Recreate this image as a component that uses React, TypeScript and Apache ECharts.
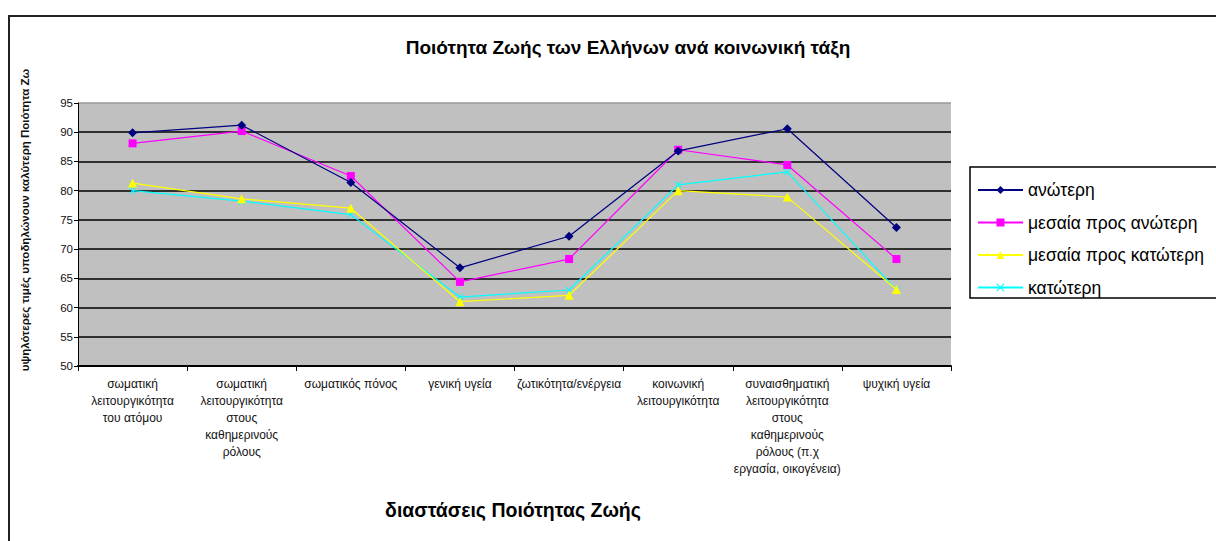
import React, { useEffect, useRef } from "react";
import * as echarts from "echarts";

const title = "Ποιότητα Ζωής των Ελλήνων ανά κοινωνική τάξη";
const xAxisName = "διαστάσεις Ποιότητας Ζωής";
const yAxisName = "υψηλότερες τιμές υποδηλώνουν καλύτερη Ποιότητα Ζω";

const categories = [
  "σωματική\nλειτουργικότητα\nτου ατόμου",
  "σωματική\nλειτουργικότητα\nστους\nκαθημερινούς\nρόλους",
  "σωματικός πόνος",
  "γενική υγεία",
  "ζωτικότητα/ενέργεια",
  "κοινωνική\nλειτουργικότητα",
  "συναισθηματική\nλειτουργικότητα\nστους\nκαθημερινούς\nρόλους (π.χ\nεργασία, οικογένεια)",
  "ψυχική υγεία",
];

const seriesNames = ["ανώτερη", "μεσαία προς ανώτερη", "μεσαία προς κατώτερη", "κατώτερη"];
const upper = [89.9, 91.2, 81.4, 66.8, 72.2, 86.8, 90.6, 73.7];
const middleUpper = [88.1, 90.2, 82.5, 64.4, 68.3, 87.0, 84.4, 68.3];
const middleLower = [81.3, 78.6, 77.0, 61.0, 62.1, 80.0, 78.9, 63.1];
const lower = [80.0, 78.2, 75.9, 61.8, 63.0, 81.0, 83.2, 63.0];

const colors = ["#000080", "#ff00ff", "#ffff00", "#00ffff"];
const symbols = [
  "diamond",
  "rect",
  "triangle",
  "path://M0,1L1,0L5,4L9,0L10,1L6,5L10,9L9,10L5,6L1,10L0,9L4,5Z",
];
const symbolSizes = [9, 8, 9, 7];

export default function App() {
  const ref = useRef<HTMLDivElement>(null);
  useEffect(() => {
    if (!ref.current) return;
    const chart = echarts.init(ref.current, null, { renderer: "svg" });
    const data = [upper, middleUpper, middleLower, lower];
    chart.setOption({
      animation: false,
      backgroundColor: "#ffffff",
      title: {
        text: title,
        left: 623,
        top: 33,
        textAlign: "center",
        textStyle: { fontFamily: "Arial, Liberation Sans", fontSize: 19, fontWeight: "bold", color: "#000" },
      },
      legend: {
        orient: "vertical",
        left: 972,
        top: 176,
        itemWidth: 45,
        itemHeight: 10,
        itemGap: 14.5,
        data: seriesNames,
        textStyle: { fontFamily: "Arial, Liberation Sans", fontSize: 17.5, color: "#000" },
      },
      grid: {
        left: 78,
        right: 265,
        top: 103,
        bottom: 175,
        show: true,
        backgroundColor: "#c0c0c0",
        borderWidth: 0,
      },
      xAxis: {
        type: "category",
        data: categories,
        boundaryGap: true,
        axisLine: { lineStyle: { color: "#000", width: 2 } },
        axisTick: { show: true, length: 5, lineStyle: { color: "#000" } },
        axisLabel: {
          interval: 0,
          fontFamily: "Arial, Liberation Sans",
          fontSize: 12,
          lineHeight: 17,
          color: "#111",
          margin: 9,
        },
      },
      yAxis: {
        type: "value",
        min: 50,
        max: 95,
        interval: 5,
        axisLine: { show: true, lineStyle: { color: "#000" } },
        axisTick: { show: true, length: 4, lineStyle: { color: "#000" } },
        axisLabel: { fontFamily: "Arial, Liberation Sans", fontSize: 11.5, color: "#111", margin: 5 },
        splitLine: {
          show: true,
          lineStyle: {
            color: ["#000", "#000", "#000", "#000", "#000", "#000", "#000", "#000", "#000", "#9a9a9a"],
            width: 1.5,
          },
        },
      },
      graphic: [
        {
          type: "rect",
          shape: { x: 9, y: 16, width: 1400, height: 700 },
          style: { fill: "none", stroke: "#222", lineWidth: 2 },
          z: 100,
        },
        {
          type: "rect",
          shape: { x: 970, y: 167, width: 400, height: 131 },
          style: { fill: "none", stroke: "#000", lineWidth: 1.5 },
          z: 100,
        },
        {
          type: "text",
          x: 25,
          y: 220,
          rotation: Math.PI / 2,
          style: {
            text: yAxisName,
            fontFamily: "Arial, Liberation Sans",
            fontSize: 11.5,
            fontWeight: "bold",
            fill: "#111",
            align: "center",
            verticalAlign: "middle",
          },
        },
        {
          type: "text",
          x: 513,
          y: 510,
          style: {
            text: xAxisName,
            fontFamily: "Arial, Liberation Sans",
            fontSize: 19.5,
            fontWeight: "bold",
            fill: "#000",
            align: "center",
            verticalAlign: "middle",
          },
        },
      ],
      series: seriesNames.map((name, i) => ({
        name,
        type: "line",
        data: data[i],
        symbol: symbols[i],
        symbolSize: symbolSizes[i],
        showSymbol: true,
        lineStyle: { color: colors[i], width: 1.2 },
        itemStyle: { color: colors[i] },
        z: 10 - i,
      })),
    });
    return () => chart.dispose();
  }, []);
  return <div ref={ref} style={{ position: "fixed", left: 0, top: 0, width: 1216, height: 541 }} />;
}
